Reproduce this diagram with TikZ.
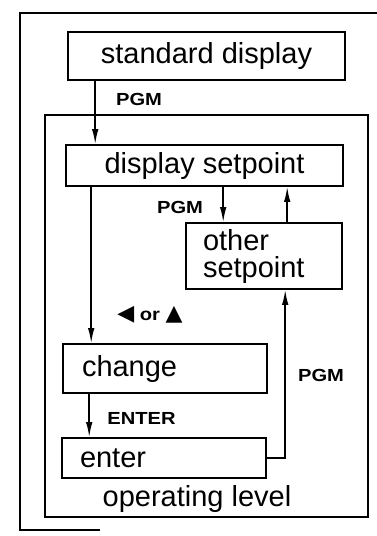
\documentclass[tikz,border=0pt]{standalone}
\usepackage{fontspec}
\setmainfont{Liberation Sans}
\newfontfamily\keyfont{Liberation Sans}[FakeStretch=1.15]
\newfontfamily\symfont{DejaVu Sans}
\usetikzlibrary{arrows.meta, positioning}

\begin{document}
\begin{tikzpicture}[x=1pt, y=-1pt, line width=1.6pt,
    every node/.style={font=\fontsize{29}{27}\selectfont},
    box/.style={draw, rectangle, inner sep=0pt},
    key/.style={font=\fontsize{17.5}{17.5}\selectfont\keyfont\bfseries},
    flow/.style={-{Latex[length=15pt, width=6.5pt]}}]
    \useasboundingbox (0,0) rectangle (377,536);

    % Frames
    \draw (377,13) -- (20,13) -- (20,530) -- (100,530);
    \draw (45,115) rectangle (368,517);
    \node (oplevel) at (197,499) {operating level};

    % States
    \node[box, minimum width=277pt, minimum height=48pt] (std) at (206.5,56) {standard display};
    \node[box, minimum width=277pt, minimum height=41pt] (disp) at (204.5,165.5) {display setpoint};
    \node[box, minimum width=156pt, minimum height=66pt, text width=122pt, align=left]
        (other) at (264,256) {other\\setpoint};
    \node[box, minimum width=204pt, minimum height=49pt, text width=166pt, align=left]
        (change) at (165,368.5) {change};
    \node[box, minimum width=204pt, minimum height=40pt, text width=168pt, align=left]
        (enter) at (164,458) {enter};

    % Transitions
    \draw[flow] ([xshift=28pt]std.south west) -- ([xshift=30pt]disp.north west);
    \draw[flow] ([xshift=158pt]disp.south west) -- ([xshift=38pt]other.north west);
    \draw[flow] ([xshift=102pt]other.north west) -- ([xshift=102pt]other.north west |- disp.south);
    \draw[flow] ([xshift=26pt]disp.south west) -- ([xshift=29pt]change.north west);
    \draw[flow] ([xshift=27pt]change.south west) -- ([xshift=28pt]enter.north west);
    \draw[flow] (enter.east) -| ([xshift=100pt]other.south west);

    % Keys
    \node[key] (pgmstd) at (139,99) {PGM};
    \node[key] (pgmdisp) at (180,207) {PGM};
    \node[key] (arrows) at (150,315) {{\symfont\fontsize{22}{22}\selectfont ◀} or {\symfont\fontsize{22}{22}\selectfont ▲}};
    \node[key] (enterkey) at (141.5,418) {ENTER};
    \node[key] (pgmenter) at (321,375) {PGM};
\end{tikzpicture}
\end{document}
